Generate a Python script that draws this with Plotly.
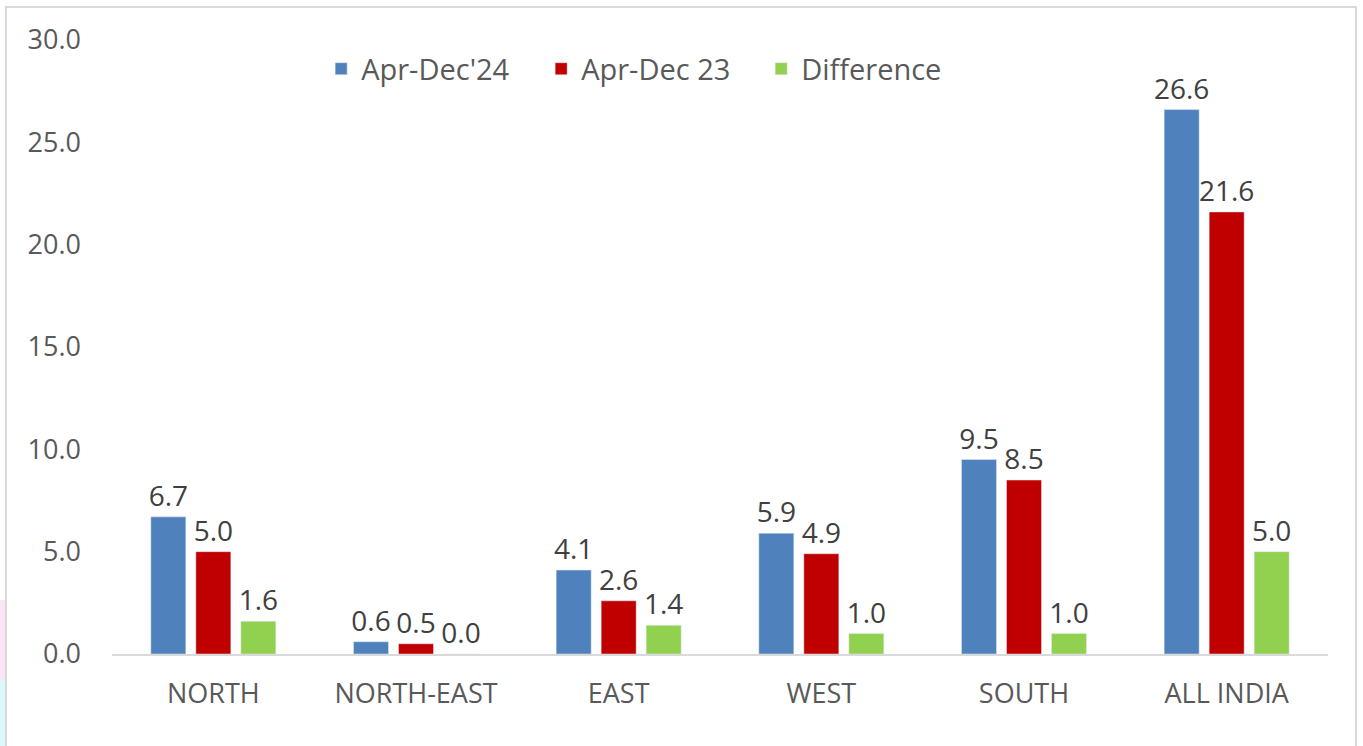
import plotly.graph_objects as go

regions = ["NORTH", "NORTH-EAST", "EAST", "WEST", "SOUTH", "ALL INDIA"]
apr_dec_24 = [6.7, 0.6, 4.1, 5.9, 9.5, 26.6]
apr_dec_23 = [5.0, 0.5, 2.6, 4.9, 8.5, 21.6]
difference = [1.6, 0.0, 1.4, 1.0, 1.0, 5.0]
y_ticks = [0, 5, 10, 15, 20, 25, 30]

FONT = "Open Sans"
series = [
    ("Apr-Dec'24", apr_dec_24, "#4F81BD"),
    ("Apr-Dec 23", apr_dec_23, "#C00000"),
    ("Difference", difference, "#92D050"),
]

fig = go.Figure()
for name, vals, color in series:
    fig.add_trace(go.Bar(
        x=regions, y=vals, name=name, marker_color=color,
        text=[f"{v:.1f}" for v in vals], textposition="outside",
        constraintext="none",
        textfont=dict(family=FONT, size=28, color="#404040"),
        cliponaxis=False,
    ))

fig.update_layout(
    width=1363, height=746,
    margin=dict(l=112, r=35, t=40, b=92),
    paper_bgcolor="white", plot_bgcolor="white",
    barmode="group", bargap=0.334, bargroupgap=0.222,
    font=dict(family=FONT, size=27, color="#595959"),
    showlegend=True,
    legend=dict(orientation="h", x=0.172, xanchor="left", y=0.953, yanchor="middle",
                font=dict(family=FONT, size=29, color="#595959"),
                itemwidth=30, entrywidth=175, entrywidthmode="pixels",
                bgcolor="rgba(0,0,0,0)"),
    xaxis=dict(showline=True, linecolor="#D9D9D9", linewidth=2, ticks="",
               ticklabelstandoff=15,
               tickfont=dict(family=FONT, size=27, color="#595959"),
               showgrid=False),
    yaxis=dict(range=[0, 30], tickvals=y_ticks, ticktext=[f"{v:.1f}" for v in y_ticks],
               showgrid=False, zeroline=False, showline=False, ticks="",
               ticklabelstandoff=30,
               tickfont=dict(family=FONT, size=27, color="#595959")),
)

# outer chart frame
fig.add_shape(type="rect", xref="paper", yref="paper",
              x0=-106/1216, x1=1244/1216, y0=-200/614, y1=647/614,
              line=dict(color="#D9D9D9", width=2), fillcolor="rgba(0,0,0,0)", layer="below")
# faint coloured page edge at the left
fig.add_shape(type="rect", xref="paper", yref="paper",
              x0=-112/1216, x1=-107/1216, y0=-26/614, y1=54/614,
              line=dict(width=0), fillcolor="#FCE4F4", layer="below")
fig.add_shape(type="rect", xref="paper", yref="paper",
              x0=-112/1216, x1=-107/1216, y0=-92/614, y1=-26/614,
              line=dict(width=0), fillcolor="#DDF8FB", layer="below")

fig.write_html("out.html", config={"displayModeBar": False},
               post_script="document.body.style.margin='0';document.body.style.overflow='hidden';")
